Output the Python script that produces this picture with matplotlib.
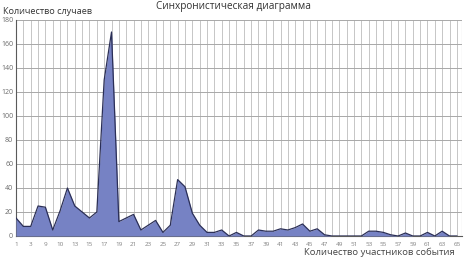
#!/usr/bin/env python3
# -*- coding: utf-8 -*-

"""
Synchronistic diagram: number of cases vs number of event participants.
"""

import numpy as np
from matplotlib import pyplot as plt

plt.rcParams['font.family'] = ['Open Sans', 'DejaVu Sans']

# DATA ########################################################################

counts = [15, 8, 8, 25, 24, 5, 21, 40, 25, 20, 15, 20, 130, 170, 12, 15, 18,
          5, 9, 13, 3, 9, 47, 41, 19, 9, 3, 3, 5, 0, 3, 0, 0, 5, 4, 4, 6, 5,
          7, 10, 4, 6, 1, 0, 0, 0, 0, 0, 4, 4, 3, 1, 0, 2.5, 0, 0, 3, 0, 4,
          0, 0]

xtick_labels = ["1", "3", "9", "10", "13"] + [str(v) for v in range(15, 66, 2)]
ytick_values = list(range(0, 181, 20))

title = "Синхронистическая диаграмма"
ylabel = "Количество случаев"
xlabel = "Количество участников события"

# PLOT ########################################################################

fig = plt.figure(figsize=(4.66, 2.64), dpi=100)
ax = fig.add_axes([16 / 466, 28 / 264, 446 / 466, 216 / 264])

x = np.arange(len(counts))

ax.fill_between(x, counts, 0, color="#7682c4", linewidth=0, zorder=3)
ax.plot(x, counts, color="#2b2f57", linewidth=0.9, zorder=4)

ax.set_xlim(0, 60.7)
ax.set_ylim(0, 180)

# grid
for xv in x[1:]:
    ax.axvline(xv, color="#c6c6c6", linewidth=0.7, zorder=1)
ax.axvline(60.7, color="#a8a8a8", linewidth=0.8, zorder=1)
for yv in ytick_values[1:]:
    ax.axhline(yv, color="#a8a8a8", linewidth=0.7, zorder=2)

ax.set_xticks(x[::2])
ax.set_xticklabels(xtick_labels, fontsize=4.5, color="#808080")
ax.set_yticks(ytick_values)
ax.set_yticklabels([str(v) for v in ytick_values], fontsize=5, color="#6a6a6a")
ax.tick_params(length=0, pad=4)
ax.tick_params(axis="y", pad=2)

for side in ["top", "right"]:
    ax.spines[side].set_visible(False)
ax.spines["left"].set_color("#5a5a5a")
ax.spines["bottom"].set_color("#5a5a5a")
ax.spines["left"].set_linewidth(0.8)
ax.spines["bottom"].set_linewidth(0.8)

fig.text(233 / 466, 1 - 6 / 264, title, fontsize=7.2, color="#333333",
         ha="center", va="center")
fig.text(3 / 466, 1 - 12 / 264, ylabel, fontsize=6.6, color="#333333",
         ha="left", va="center")
fig.text(455 / 466, 1 - 252 / 264, xlabel, fontsize=6.8, color="#444444",
         ha="right", va="center")

fig.savefig("out.png", dpi=100)
